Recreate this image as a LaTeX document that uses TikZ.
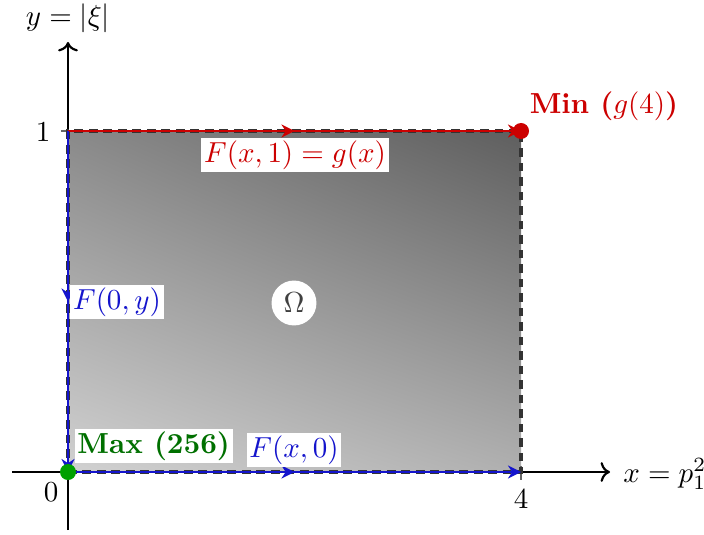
\documentclass[tikz,border=0pt]{standalone}
\usetikzlibrary{decorations.markings,arrows.meta,shadings}
\definecolor{myred}{HTML}{CC0000}
\definecolor{myblue}{HTML}{1414CC}
\definecolor{mygreen}{HTML}{007000}
\definecolor{dotgreen}{HTML}{00A000}
\definecolor{omegagray}{HTML}{404040}
\tikzset{
  axis/.style={line width=0.75pt,->,black},
  tickline/.style={line width=0.5pt,black!60},
  border/.style={line width=1.5pt,black!80,dash pattern=on 3pt off 2pt},
  midarrow/.style={postaction={decorate},decoration={markings,mark=at position 0.5 with {\arrow{Stealth[length=4.5pt,width=4.5pt]}}}},
  edgeline/.style={line width=0.8pt,midarrow,-{Stealth[length=4.5pt,width=4.5pt]}},
  whitelab/.style={fill=white,inner sep=1pt},
}
\begin{document}
\begin{tikzpicture}[x=0.345pt,y=-0.345pt]
\useasboundingbox (0,0) rectangle (704,534);
\coordinate (O) at (68,472);
\coordinate (A) at (521,472);
\coordinate (B) at (68,131);
\coordinate (C) at (521,131);
\shade[upper left=black!46, upper right=black!63, lower left=black!18, lower right=black!31] (O) rectangle (C);
% axes
\coordinate (xs) at (12,472);
\coordinate (xe) at (610,472);
\coordinate (ys) at (68,530);
\coordinate (ye) at (68,42);
\draw[axis] (xs) -- (xe);
\draw[axis] (ys) -- (ye);
\node[anchor=west,inner sep=1pt] (xl) at (620,474) {$x=p_1^2$};
\node (yl) at (68,18) {$y=|\xi|$};
% ticks
\coordinate (t1a) at (61,131);
\coordinate (t4a) at (521,466);
\coordinate (t4b) at (521,480);
\draw[tickline] (t1a) -- (B);
\draw[tickline] (t4a) -- (t4b);
\node (l1) at (43,132) {$1$};
\node (l0) at (51,492) {$0$};
\node (l4) at (521,499) {$4$};
% dashed border
\draw[border] (O) -- (A) -- (C) -- (B) -- cycle;
% boundary paths
\draw[edgeline,myred] (B) -- (C);
\draw[edgeline,myblue] (B) -- (O);
\draw[edgeline,myblue] (O) -- (A);
% dots
\fill[dotgreen] (O) circle (8);
\fill[myred] (C) circle (8);
% labels
\node[whitelab,text=mygreen,anchor=south west] (max) at (74,464) {\textbf{Max (256)}};
\node[whitelab,text=myblue] (fx0) at (294,450) {$F(x,0)$};
\node[whitelab,text=myred] (fx1) at (295,155) {$F(x,1)=g(x)$};
\node[whitelab,text=myblue] (f0y) at (117,302) {$F(0,y)$};
\node[circle,fill=white,text=omegagray,minimum size=15.5pt,inner sep=0pt] (om) at (294,303) {$\Omega$};
\node[text=myred] (min) at (604,106) {\textbf{Min ($g(4)$)}};
\end{tikzpicture}
\end{document}
